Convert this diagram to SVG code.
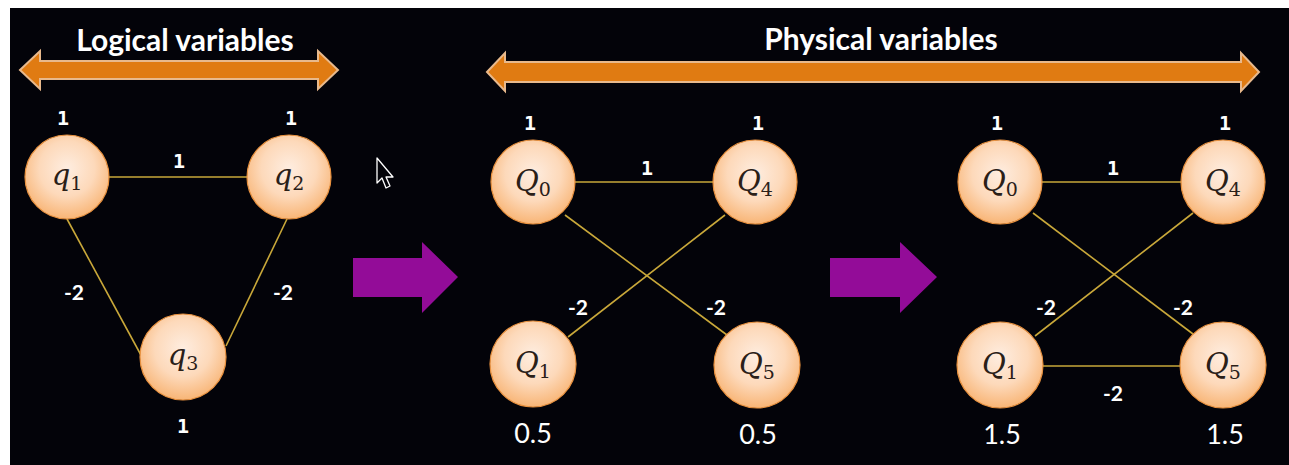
<svg xmlns="http://www.w3.org/2000/svg" width="1289" height="465" viewBox="0 0 1289 465">
<defs>
<radialGradient id="ng" cx="50%" cy="40%" r="60%">
<stop offset="0" stop-color="#FEEDE0"/>
<stop offset="0.55" stop-color="#FDD9BA"/>
<stop offset="1" stop-color="#F8B576"/>
</radialGradient>
<style>
.node{fill:url(#ng);stroke:#E8913F;stroke-width:1.2}
.edge{stroke:#C9A83A;stroke-width:1.6;fill:none}
.title{font-family:Lato,"Open Sans",sans-serif;font-weight:bold;font-size:30px;fill:#FFFFFF;text-anchor:middle}
.w1{font-family:"DejaVu Sans Mono","Liberation Mono",monospace;font-weight:bold;font-size:20px;fill:#FFFFFF;text-anchor:middle}
.w2{font-family:Lato,"Open Sans",sans-serif;font-weight:bold;font-size:21px;fill:#FFFFFF;text-anchor:middle}
.w3{font-family:Lato,"Open Sans",sans-serif;font-size:27px;fill:#FFFFFF;text-anchor:middle}
.lab{font-family:"DejaVu Serif","Liberation Serif",serif;font-style:italic;font-size:29px;fill:#2A2018;text-anchor:middle}
.sub{font-style:normal;font-size:19px}
.orange{fill:#E07B12;stroke:#E8B98C;stroke-width:2}
.purple{fill:#930C98}
</style>
</defs>
<rect x="10" y="8" width="1279" height="457" fill="#030309"/>
<g id="logical-header">
<polygon class="orange" points="20,70 40,51 40,61 318,61 318,51 338,70 318,89 318,79 40,79 40,89"/>
<text class="title" x="185" y="51">Logical variables</text>
</g>
<g id="physical-header">
<polygon class="orange" points="487,72 505,53 505,62 1241,62 1241,53 1259,72 1241,91 1241,82 505,82 505,91"/>
<text class="title" x="881" y="50">Physical variables</text>
</g>
<g id="arrow1"><polygon class="purple" points="353,258 422,258 422,242 458,277 422,313 422,297 353,297"/></g>
<g id="arrow2"><polygon class="purple" points="830,258 900,258 900,242 937,277 900,313 900,297 830,297"/></g>
<g id="cursor"><polygon points="377,158 377,183 382,178 386,188 390,186 386,177 393,177" fill="#030309" stroke="#FFFFFF" stroke-width="1.3" stroke-linejoin="round"/></g>
<g id="connectors">
<line class="edge" x1="109" y1="177" x2="247" y2="177"/>
<line class="edge" x1="67" y1="219" x2="142" y2="357"/>
<line class="edge" x1="287" y1="219" x2="226" y2="346"/>
<line class="edge" x1="575" y1="182" x2="713" y2="182"/>
<line class="edge" x1="565" y1="215" x2="727" y2="335"/>
<line class="edge" x1="725" y1="215" x2="568" y2="337"/>
<line class="edge" x1="1042" y1="182" x2="1181" y2="182"/>
<line class="edge" x1="1033" y1="213" x2="1193" y2="334"/>
<line class="edge" x1="1193" y1="213" x2="1035" y2="336"/>
<line class="edge" x1="1042" y1="366" x2="1181" y2="366"/>
<text class="w1" x="179" y="168">1</text>
<text class="w2" x="74" y="300">-2</text>
<text class="w2" x="283" y="300">-2</text>
<text class="w1" x="647" y="175">1</text>
<text class="w2" x="578" y="315">-2</text>
<text class="w2" x="716" y="315">-2</text>
<text class="w1" x="1113" y="175">1</text>
<text class="w2" x="1046" y="315">-2</text>
<text class="w2" x="1183" y="315">-2</text>
<text class="w2" x="1113" y="401">-2</text>
</g>
<g id="q1"><circle class="node" cx="67" cy="177" r="42"/><text class="lab" x="67" y="185">q<tspan class="sub" dy="5">1</tspan></text><text class="w1" x="63" y="125">1</text></g>
<g id="q2"><circle class="node" cx="289" cy="177" r="42"/><text class="lab" x="289" y="185">q<tspan class="sub" dy="5">2</tspan></text><text class="w1" x="291" y="125">1</text></g>
<g id="q3"><circle class="node" cx="183" cy="357" r="43"/><text class="lab" x="183" y="365">q<tspan class="sub" dy="5">3</tspan></text><text class="w1" x="183" y="433">1</text></g>
<g id="m-Q0"><circle class="node" cx="533" cy="182" r="42"/><text class="lab" x="533" y="191">Q<tspan class="sub" dy="5">0</tspan></text><text class="w1" x="530" y="130">1</text></g>
<g id="m-Q4"><circle class="node" cx="755" cy="182" r="42"/><text class="lab" x="755" y="191">Q<tspan class="sub" dy="5">4</tspan></text><text class="w1" x="758" y="130">1</text></g>
<g id="m-Q1"><circle class="node" cx="533" cy="364" r="43"/><text class="lab" x="533" y="373">Q<tspan class="sub" dy="5">1</tspan></text><text class="w3" x="533" y="443">0.5</text></g>
<g id="m-Q5"><circle class="node" cx="757" cy="365" r="43"/><text class="lab" x="757" y="374">Q<tspan class="sub" dy="5">5</tspan></text><text class="w3" x="758" y="444">0.5</text></g>
<g id="r-Q0"><circle class="node" cx="1000" cy="182" r="42"/><text class="lab" x="1000" y="191">Q<tspan class="sub" dy="5">0</tspan></text><text class="w1" x="997" y="130">1</text></g>
<g id="r-Q4"><circle class="node" cx="1223" cy="182" r="42"/><text class="lab" x="1223" y="191">Q<tspan class="sub" dy="5">4</tspan></text><text class="w1" x="1225" y="130">1</text></g>
<g id="r-Q1"><circle class="node" cx="1000" cy="365" r="43"/><text class="lab" x="1000" y="374">Q<tspan class="sub" dy="5">1</tspan></text><text class="w3" x="1002" y="444">1.5</text></g>
<g id="r-Q5"><circle class="node" cx="1223" cy="365" r="43"/><text class="lab" x="1223" y="374">Q<tspan class="sub" dy="5">5</tspan></text><text class="w3" x="1225" y="444">1.5</text></g>
</svg>
